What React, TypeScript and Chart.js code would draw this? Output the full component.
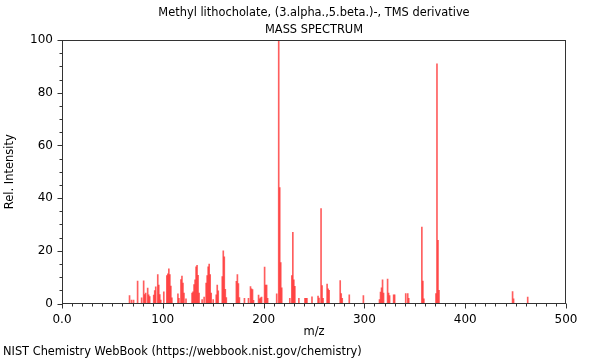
import React, { useEffect, useRef } from "react";
import { Chart, registerables } from "chart.js";

Chart.register(...registerables);

const titleLines = ["Methyl lithocholate, (3.alpha.,5.beta.)-, TMS derivative", "MASS SPECTRUM"];
const footerText = "NIST Chemistry WebBook (https://webbook.nist.gov/chemistry)";
const xAxisTitle = "m/z";
const yAxisTitle = "Rel. Intensity";

const mzValues = [
  67, 69, 71, 75, 79, 81, 82, 83, 85, 86, 87, 91, 92, 93, 95, 96, 97, 98, 101,
  104, 105, 106, 107, 108, 109, 115, 116, 118, 119, 120, 121, 123,
  129, 130, 131, 132, 133, 134, 135, 136, 139, 141, 143, 144, 145, 146, 147, 148, 150,
  153, 154, 155, 159, 160, 161, 162, 163, 173, 174, 175, 176, 181, 185, 187, 188, 189, 190,
  195, 196, 197, 198, 201, 202, 203, 204, 213, 215, 216, 217, 218, 226, 228, 229, 230, 231,
  235, 241, 242, 243, 248, 254, 255, 257, 258, 259, 263, 264, 265, 276, 277, 278, 285, 299,
  315, 316, 317, 318, 319, 323, 324, 325, 329, 330, 341, 343, 344, 357, 358, 359,
  371, 372, 373, 374, 447, 448, 462,
];

const intensities = [
  3, 1.3, 1.3, 8.5, 2.2, 8.6, 3.4, 4, 5.9, 3.3, 2.6, 3.2, 4.9, 6.3, 11, 7, 3.4, 1.3, 4.4,
  10.6, 11.3, 13.2, 11, 6.6, 2.2, 3.7, 2, 9.1, 10.4, 7.8, 4, 1.8,
  4, 4.4, 7.2, 9, 13.9, 14.5, 10.7, 4, 1.5, 2.4, 7.8, 10.6, 13.9, 15, 11, 4, 1.5,
  3.3, 7, 4.8, 10.2, 20, 17.7, 5.4, 2.3, 8.4, 11, 7.6, 2.3, 2, 2, 6.4, 5.6, 5.3, 1.2,
  3.2, 1.8, 2.2, 2.4, 13.8, 7, 7, 2, 3.7, 100, 44, 15.5, 6, 2, 10.6, 27, 9, 6.5,
  2, 2, 2, 2, 2.5, 2.8, 2.1, 36, 6.8, 2, 7.4, 5.6, 5, 8.7, 3.8, 2, 3.3, 3,
  1.5, 4.3, 6, 9, 4, 9.3, 4, 3, 3.3, 3.3, 3.8, 3.8, 2, 29, 8.5, 1.8,
  3.8, 91, 24, 5, 4.5, 1.8, 2.4,
];

const xMin = 0;
const xMax = 500;
const yMin = 0;
const yMax = 100;

const framePlugin = {
  id: "frameTicks",
  afterDatasetsDraw(chart: any) {
    const { ctx, chartArea, scales } = chart;
    const xs = scales.x;
    const ys = scales.y;
    const l = Math.round(chartArea.left) + 0.5;
    const r = Math.round(chartArea.right) - 0.5;
    const t = Math.round(chartArea.top) + 0.5;
    const b = Math.round(chartArea.bottom) - 0.5;
    ctx.save();
    ctx.strokeStyle = "#333";
    ctx.lineWidth = 1;
    ctx.strokeRect(l, t, r - l, b - t);
    ctx.beginPath();
    for (let v = xMin; v <= xMax; v += 10) {
      const px = Math.round(xs.getPixelForValue(v)) + 0.5;
      const len = v % 100 === 0 ? 5 : 3;
      ctx.moveTo(px, b);
      ctx.lineTo(px, b + len);
    }
    for (let v = yMin; v <= yMax; v += 5) {
      const py = Math.round(ys.getPixelForValue(v)) + 0.5;
      const len = v % 20 === 0 ? 5 : 3;
      ctx.moveTo(l, py);
      ctx.lineTo(l - len, py);
    }
    ctx.stroke();
    ctx.restore();
  },
};

export default function App() {
  const ref = useRef<HTMLCanvasElement>(null);
  useEffect(() => {
    if (!ref.current) return;
    Chart.defaults.font.family = "'DejaVu Sans', sans-serif";
    Chart.defaults.color = "#000";
    const points = mzValues.map((m, i) => ({ x: m, y: intensities[i] }));
    const chart = new Chart(ref.current, {
      type: "bar",
      data: {
        datasets: [
          {
            data: points as any,
            backgroundColor: "rgba(255, 40, 40, 0.75)",
            borderWidth: 0,
            barThickness: 1,
          },
        ],
      },
      options: {
        animation: false,
        responsive: false,
        events: [],
        layout: { padding: { left: 3, right: 34, top: 0, bottom: 0 } },
        plugins: {
          legend: { display: false },
          tooltip: { enabled: false },
          title: {
            display: true,
            fullSize: false,
            text: titleLines,
            color: "#000",
            font: { size: 11.4, weight: "normal", lineHeight: 17 / 11.4 },
            padding: { top: 5, bottom: 1 },
          },
          subtitle: {
            display: true,
            text: footerText,
            position: "bottom",
            align: "start",
            color: "#000",
            font: { size: 11.4, weight: "normal", lineHeight: 1.2 },
            padding: { top: 0, bottom: 1 },
          },
        },
        scales: {
          x: {
            type: "linear",
            min: xMin,
            max: xMax,
            offset: false,
            grid: { display: false, drawTicks: false },
            border: { display: false },
            ticks: {
              stepSize: 100,
              autoSkip: false,
              maxRotation: 0,
              padding: 9,
              color: "#000",
              font: { size: 12 },
              callback: (v: any) => (Number(v) === 0 ? "0.0" : String(v)),
            },
            title: {
              display: true,
              text: xAxisTitle,
              color: "#000",
              font: { size: 11.5, lineHeight: 1.2 },
              padding: { top: 0, bottom: 6 },
            },
            afterFit: (s: any) => {
              s.height = 41.8;
            },
          },
          y: {
            min: yMin,
            max: yMax,
            grid: { display: false, drawTicks: false },
            border: { display: false },
            ticks: {
              stepSize: 20,
              padding: 9,
              color: "#000",
              font: { size: 12 },
            },
            title: {
              display: true,
              text: yAxisTitle,
              color: "#000",
              font: { size: 11.5, lineHeight: 1.2 },
              padding: { top: 0.3, bottom: 0 },
            },
            afterFit: (s: any) => {
              s.width = 59;
            },
          },
        },
      },
      plugins: [framePlugin],
    });
    return () => chart.destroy();
  }, []);
  return (
    <div style={{ position: "absolute", left: 0, top: 0, width: 600, height: 360, background: "#fff" }}>
      <canvas ref={ref} width={600} height={360} style={{ display: "block" }} />
    </div>
  );
}
